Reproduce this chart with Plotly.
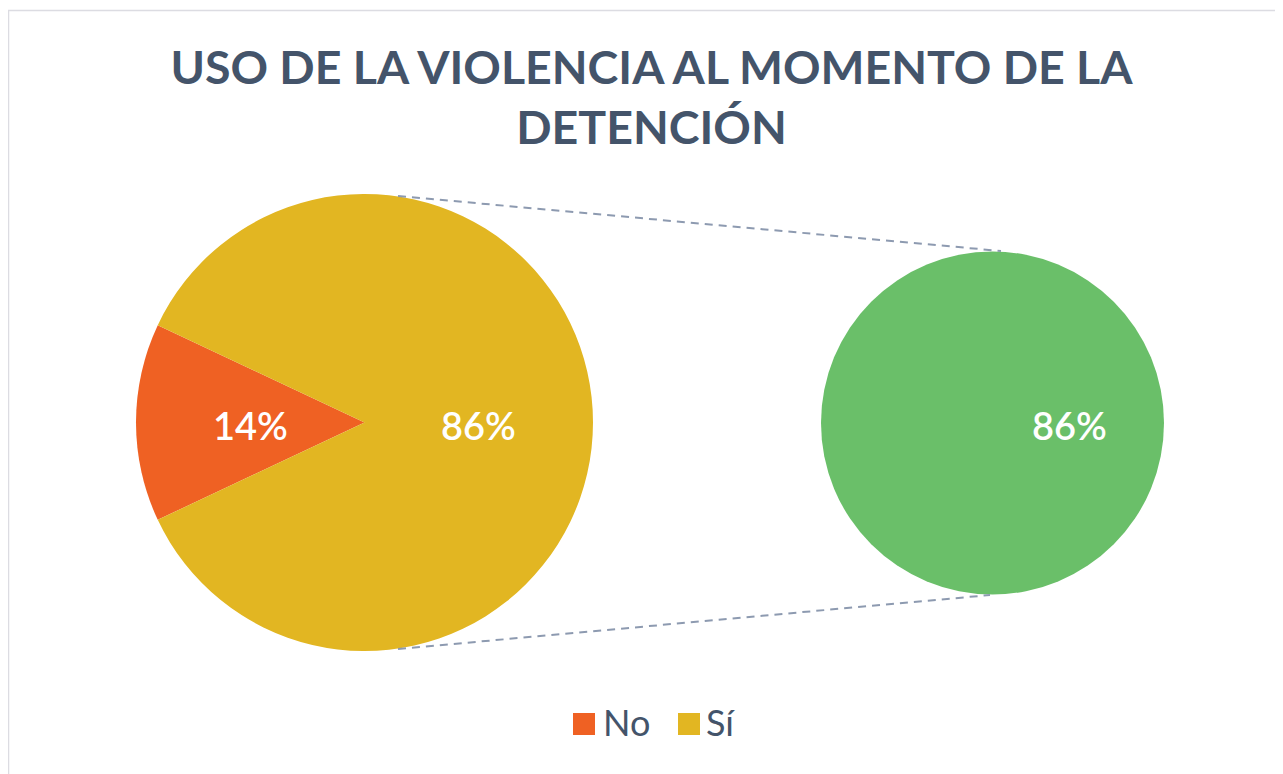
import plotly.graph_objects as go

W, H = 1283, 774
OFF = 8  # page body margin offset

title_text = "USO DE LA VIOLENCIA AL MOMENTO DE LA<br>DETENCIÓN"
categories = ["No", "Sí"]
values = [14, 86]
colors = ["#EF6123", "#E2B622"]
second_label = "Sí"
second_values = [86]
second_color = "#6ABF69"

title_color = "#44546A"
FONT = "Lato"


def px_x(x):
    return (x - OFF) / W


def px_y(y):
    return 1 - (y - OFF) / H


fig = go.Figure()

# Left (main) pie
fig.add_trace(go.Pie(
    labels=categories,
    values=values,
    marker=dict(colors=colors, line=dict(width=0)),
    sort=False,
    direction="clockwise",
    rotation=270 - values[0] / sum(values) * 180,
    textinfo="none",
    hoverinfo="label+percent",
    domain=dict(x=[px_x(136), px_x(593)], y=[px_y(651), px_y(194)]),
    showlegend=False,
))

# Right (secondary) pie
fig.add_trace(go.Pie(
    labels=[second_label],
    values=second_values,
    marker=dict(colors=[second_color], line=dict(width=0)),
    sort=False,
    textinfo="none",
    hoverinfo="label+value",
    domain=dict(x=[px_x(821), px_x(1164)], y=[px_y(595), px_y(251)]),
    showlegend=False,
))

total = sum(values)
annotations = []
label_font = dict(family=FONT, size=38, color="white", weight=600)
label_pos = [(251, 425), (478, 425)]
for v, (x, y) in zip(values, label_pos):
    annotations.append(dict(
        x=px_x(x), y=px_y(y), xref="paper", yref="paper",
        text=f"{round(v / total * 100)}%", showarrow=False,
        font=label_font, xanchor="center", yanchor="middle",
    ))
annotations.append(dict(
    x=px_x(1069), y=px_y(425), xref="paper", yref="paper",
    text=f"{second_values[0]}%", showarrow=False,
    font=label_font, xanchor="center", yanchor="middle",
))

shapes = []
# outer border
shapes.append(dict(type="rect", xref="paper", yref="paper",
                   x0=px_x(8.5), x1=px_x(1279.5), y0=px_y(820), y1=px_y(10.5),
                   line=dict(color="#DCDCE2", width=1.5), fillcolor="rgba(0,0,0,0)"))
# connector lines
conn_line = dict(color="#8D9AB0", width=2, dash="8px,6px")
shapes.append(dict(type="line", xref="paper", yref="paper",
                   x0=px_x(398), y0=px_y(196), x1=px_x(1001), y1=px_y(251),
                   line=conn_line))
shapes.append(dict(type="line", xref="paper", yref="paper",
                   x0=px_x(398), y0=px_y(649), x1=px_x(990), y1=px_y(595),
                   line=conn_line))

# custom legend
legend_items = [(573, 601), (678, 704)]
for cat, col, (sx, tx) in zip(categories, colors, legend_items):
    shapes.append(dict(type="rect", xref="paper", yref="paper",
                       x0=px_x(sx), x1=px_x(sx + 22), y0=px_y(735), y1=px_y(713),
                       fillcolor=col, line=dict(width=0)))
    annotations.append(dict(
        x=px_x(tx), y=px_y(722), xref="paper", yref="paper",
        text=cat, showarrow=False,
        font=dict(family=FONT, size=36, color=title_color),
        xanchor="left", yanchor="middle",
    ))

fig.update_layout(
    width=W, height=H,
    margin=dict(l=0, r=0, t=0, b=0),
    paper_bgcolor="white",
    plot_bgcolor="white",
    title=dict(
        text=title_text,
        x=px_x(651.5), xanchor="center",
        y=px_y(84), yanchor="top", yref="container",
        font=dict(family=FONT, size=46.5, color=title_color, weight="bold"),
    ),
    annotations=annotations,
    shapes=shapes,
)

fig.write_html("out.html")
